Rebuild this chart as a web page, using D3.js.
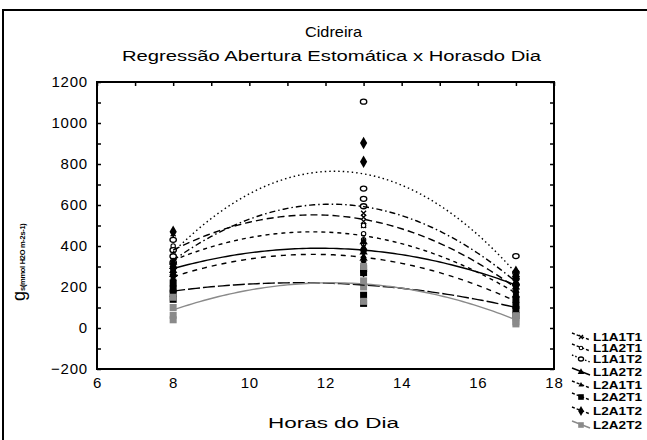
<!DOCTYPE html>
<html><head><meta charset="utf-8">
<script src="https://cdn.jsdelivr.net/npm/d3@7"></script>
<style>
html,body{margin:0;padding:0;background:#fff;}
svg{display:block;font-family:"Liberation Sans",Arial,sans-serif;}
</style></head>
<body>
<svg id="chart" width="647" height="440"></svg>
<script>
// ---------- data ----------
const hours = [8, 13, 17];
const seriesNames = ["L1A1T1","L1A2T1","L1A1T2","L1A2T2","L2A1T1","L2A2T1","L2A1T2","L2A2T2"];
const xTicks = [6, 8, 10, 12, 14, 16, 18];
const yTicks = [-200, 0, 200, 400, 600, 800, 1000, 1200];

// fitted regression values at hours 8, 13, 17
const fitL1A1T1 = [380, 530, 195];
const fitL1A2T1 = [330, 450, 170];
const fitL1A1T2 = [370, 752, 268];
const fitL1A2T2 = [290, 380, 210];
const fitL2A1T1 = [250, 345, 130];
const fitL2A2T1 = [180, 210, 100];
const fitL2A1T2 = [330, 592, 225];
const fitL2A2T2 = [88, 215, 40];

// observed gs replicates at hour 8, 13, 17
const obsL1A1T1 = [[460, 380, 350, 330], [560, 540, 520, 500], [250, 200, 180, 150]];
const obsL1A2T1 = [[400, 330, 310, 280], [500, 460, 430, 410], [220, 180, 150, 130]];
const obsL1A1T2 = [[430, 380, 350, 320], [1104, 680, 630, 594], [351, 270, 240, 211]];
const obsL1A2T2 = [[320, 300, 280, 260], [420, 390, 370, 340], [260, 220, 200, 160]];
const obsL2A1T1 = [[270, 250, 240, 240], [380, 350, 330, 320], [170, 140, 120, 90]];
const obsL2A2T1 = [[220, 190, 170, 140], [290, 270, 160, 120], [140, 110, 90, 60]];
const obsL2A1T2 = [[470, 300, 290, 260], [902, 811, 380, 275], [275, 240, 210, 175]];
const obsL2A2T2 = [[150, 100, 62, 40], [300, 230, 200, 130], [60, 50, 30, 20]];

const fits = [fitL1A1T1, fitL1A2T1, fitL1A1T2, fitL1A2T2, fitL2A1T1, fitL2A2T1, fitL2A1T2, fitL2A2T2];
const obs = [obsL1A1T1, obsL1A2T1, obsL1A1T2, obsL1A2T2, obsL2A1T1, obsL2A2T1, obsL2A1T2, obsL2A2T2];

// ---------- styles ----------
const styles = [
  {dash:"7,4", color:"#000", marker:"x"},
  {dash:"4,4", color:"#000", marker:"smallcircle"},
  {dash:"1.5,3", color:"#000", marker:"circle"},
  {dash:null, color:"#000", marker:"triangle"},
  {dash:"5,5", color:"#000", marker:"smalltri"},
  {dash:"12,3", color:"#000", marker:"square"},
  {dash:"6,3,1.5,3", color:"#000", marker:"diamond"},
  {dash:null, color:"#8a8a8a", marker:"graysquare"}
];

const svg = d3.select("#chart");
// outer frame
svg.append("rect").attr("x",3).attr("y",10).attr("width",700).attr("height",500)
  .attr("fill","none").attr("stroke","#000").attr("stroke-width",2);

const L=97, R=554, T=82, B=369;
const x = d3.scaleLinear().domain([6,18]).range([L,R]);
const y = d3.scaleLinear().domain([-200,1200]).range([B,T]);

// titles
svg.append("text").attr("x",305).attr("y",37)
  .attr("font-size",15).attr("textLength",57).attr("lengthAdjust","spacingAndGlyphs").text("Cidreira");
svg.append("text").attr("x",122).attr("y",61)
  .attr("font-size",15.5).attr("textLength",419).attr("lengthAdjust","spacingAndGlyphs").text("Regressão Abertura Estomática x Horasdo Dia");

// axes (ticks inside)
const tickLen = 4;
const gL = svg.append("g").attr("transform",`translate(${L},0)`)
  .call(d3.axisRight(y).tickValues(d3.range(-200,1201,100)).tickSize(tickLen).tickFormat(""));
const gR = svg.append("g").attr("transform",`translate(${R},0)`)
  .call(d3.axisLeft(y).tickValues(d3.range(-200,1201,100)).tickSize(tickLen).tickFormat(""));
const gT = svg.append("g").attr("transform",`translate(0,${T})`)
  .call(d3.axisBottom(x).tickValues(d3.range(6,19,1)).tickSize(tickLen).tickFormat(""));
[gL,gR,gT].forEach(g=>{g.select(".domain").remove(); g.selectAll("line").attr("stroke","#000").attr("stroke-width",1.5);});

// tick labels
const gYl = svg.append("g").attr("transform",`translate(${L},0)`)
  .call(d3.axisLeft(y).tickValues(yTicks).tickSize(0).tickPadding(9).tickFormat(d3.format("d")));
gYl.select(".domain").remove();
gYl.selectAll("text").attr("font-size",15).attr("letter-spacing","0.8")
  .attr("font-family","Liberation Sans, Arial, sans-serif").attr("fill","#000");
const gXl = svg.append("g").attr("transform",`translate(0,${B})`)
  .call(d3.axisBottom(x).tickValues(xTicks).tickSize(0).tickPadding(8));
gXl.select(".domain").remove();
gXl.selectAll("text").attr("font-size",15).attr("letter-spacing","0.8")
  .attr("font-family","Liberation Sans, Arial, sans-serif").attr("fill","#000");

// axis titles
svg.append("text").attr("x",268).attr("y",428)
  .attr("font-size",15.5).attr("textLength",131).attr("lengthAdjust","spacingAndGlyphs").text("Horas do Dia");
const yt = svg.append("text").attr("transform","translate(25,301) rotate(-90)")
  .attr("text-anchor","start");
yt.append("tspan").attr("font-size",18).text("g");
yt.append("tspan").attr("font-size",7.5).attr("font-weight","bold").attr("letter-spacing","-0.3")
  .text("s(mmol H2O m-2s-1)");

// markers
function drawMarker(g, kind, cx, cy, s) {
  s = s || 1;
  if (kind==="x") {
    g.append("path").attr("d",`M${cx-2.5*s},${cy-2.5*s}L${cx+2.5*s},${cy+2.5*s}M${cx-2.5*s},${cy+2.5*s}L${cx+2.5*s},${cy-2.5*s}`)
      .attr("stroke","#000").attr("stroke-width",1.3);
  } else if (kind==="smallcircle") {
    g.append("circle").attr("cx",cx).attr("cy",cy).attr("r",2.2*s).attr("fill","#fff").attr("stroke","#000").attr("stroke-width",1.1);
  } else if (kind==="circle") {
    g.append("ellipse").attr("cx",cx).attr("cy",cy).attr("rx",3.2*s).attr("ry",2.5*s).attr("fill","#fff").attr("stroke","#000").attr("stroke-width",1.3);
  } else if (kind==="triangle") {
    g.append("path").attr("d",d3.symbol(d3.symbolTriangle, 30*s*s)()).attr("transform",`translate(${cx},${cy})`).attr("fill","#000");
  } else if (kind==="smalltri") {
    g.append("path").attr("d",d3.symbol(d3.symbolTriangle, 18*s*s)()).attr("transform",`translate(${cx},${cy})`).attr("fill","#000");
  } else if (kind==="square") {
    g.append("rect").attr("x",cx-3.5*s).attr("y",cy-3.5*s).attr("width",7*s).attr("height",7*s).attr("fill","#000");
  } else if (kind==="diamond") {
    g.append("path").attr("d",d3.symbol(d3.symbolDiamond, 45*s*s)()).attr("transform",`translate(${cx},${cy})`).attr("fill","#000");
  } else if (kind==="graysquare") {
    g.append("rect").attr("x",cx-3.5*s).attr("y",cy-3.5*s).attr("width",7*s).attr("height",7*s).attr("fill","#8a8a8a");
  }
}

// quadratic regression curve through the fitted values at the three hours
function quad(f, t) {
  const [x0,x1,x2] = hours;
  return f[0]*(t-x1)*(t-x2)/((x0-x1)*(x0-x2))
       + f[1]*(t-x0)*(t-x2)/((x1-x0)*(x1-x2))
       + f[2]*(t-x0)*(t-x1)/((x2-x0)*(x2-x1));
}
const line = d3.line().x(d=>x(d[0])).y(d=>y(d[1]));
const plot = svg.append("g");

// points
obs.forEach((o,i)=>{
  o.forEach((vals,h)=>{
    vals.forEach(v=> drawMarker(plot, styles[i].marker, x(hours[h]), y(v)));
  });
});
// curves
fits.forEach((f,i)=>{
  const pts = d3.range(0,91).map(k=>{const t=8+k*0.1; return [t, quad(f,t)];});
  const p = plot.append("path").attr("d",line(pts)).attr("fill","none")
    .attr("stroke",styles[i].color).attr("stroke-width",1.4);
  if (styles[i].dash) p.attr("stroke-dasharray",styles[i].dash);
});

// plot frame
svg.append("rect").attr("x",L).attr("y",T).attr("width",R-L).attr("height",B-T)
  .attr("fill","none").attr("stroke","#000").attr("stroke-width",2);

// legend
const legY = [337, 348, 359, 372, 385, 397, 411, 425];
seriesNames.forEach((n,i)=>{
  const g = svg.append("g");
  const yy = legY[i];
  const p = g.append("path").attr("d",`M572,${yy-4}L590,${yy+3}`).attr("stroke",styles[i].color)
    .attr("stroke-width",1.4).attr("fill","none");
  if (styles[i].dash) p.attr("stroke-dasharray", i===2 ? "1.5,2" : "3,2");
  drawMarker(g, styles[i].marker, 581, yy, 0.8);
  g.append("text").attr("x",593).attr("y",yy+4).attr("font-size",11.5).attr("font-weight","bold")
    .attr("textLength",49).attr("lengthAdjust","spacingAndGlyphs").text(n);
});
</script>
</body></html>
